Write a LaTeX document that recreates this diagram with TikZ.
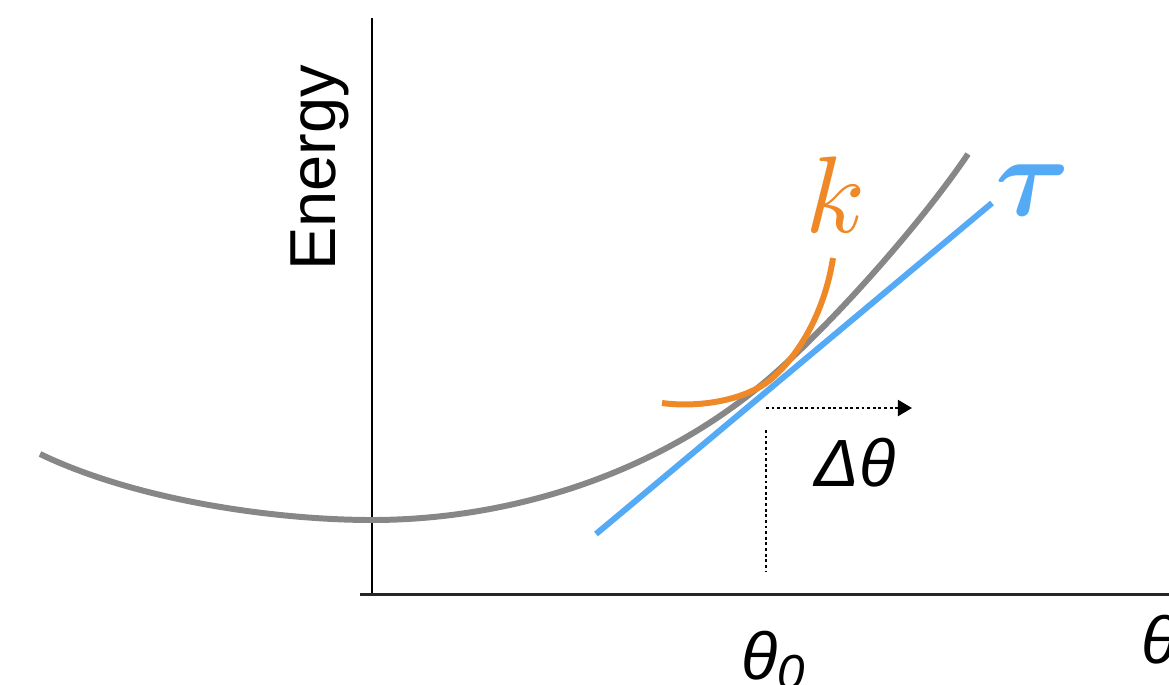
\documentclass[tikz,border=0pt]{standalone}
\usepackage{amsmath}
\usepackage{fontspec}
\setsansfont{Liberation Sans}
\usetikzlibrary{arrows.meta}
\definecolor{curvegray}{HTML}{878787}
\definecolor{tanblue}{HTML}{55AAF6}
\definecolor{kor}{HTML}{EF8826}
\tikzset{
  axisline/.style={line width=1.4pt, black},
  curve/.style={line width=3.4pt},
  dotline/.style={line width=1.5pt, dash pattern=on 1.6pt off 1.6pt},
  lbl/.style={inner sep=0pt, font=\sffamily\itshape\fontsize{38}{40}\selectfont}
}
\begin{document}
\begin{tikzpicture}[x=0.02cm, y=-0.02cm]
\useasboundingbox (0,0) rectangle (1169,684);
% axes
\coordinate (ytop) at (372,18);
\coordinate (ybot) at (372,596);
\coordinate (xl) at (360,594);
\coordinate (xr) at (1172,594);
\draw[axisline] (ytop) -- (ybot);
\draw[line width=1.7pt, black!85] (xl) -- (xr);
% energy curve
\coordinate (e0) at (40,454);
\coordinate (emin) at (372,520);
\coordinate (etan) at (773,375);
\coordinate (eend) at (968,154);
\draw[curve, curvegray] (e0) .. controls (140,502) and (280,520) .. (emin)
  .. controls (500,520) and (653,480) .. (etan)
  .. controls (833,322) and (920,225) .. (eend);
% tangent
\coordinate (t1) at (596,534);
\coordinate (t2) at (992,203);
\draw[curve, tanblue] (t1) -- (t2);
% curvature parabola
\coordinate (k0) at (662,403);
\coordinate (km) at (770,380);
\coordinate (k1) at (833,258);
\draw[curve, kor] (k0) .. controls (700,408) and (745,400) .. (km)
  .. controls (800,355) and (825,310) .. (k1);
% dotted guides
\coordinate (a1) at (766,408);
\coordinate (a2) at (912,408);
\draw[dotline, -{Triangle[length=8pt, width=9pt]}] (a1) -- (a2);
\coordinate (v1) at (766,430);
\coordinate (v2) at (766,571);
\draw[dotline] (v1) -- (v2);
% labels
\node[inner sep=0pt, rotate=90, font=\sffamily\fontsize{37}{40}\selectfont] (energy) at (320,168) {Energy};
\node[lbl] (dtheta) at (855,463) {Δθ};
\node[lbl, anchor=base west] (theta0) at (741,679) {θ\raisebox{-0.3ex}{\fontsize{28}{30}\selectfont 0}};
\node[lbl, anchor=base west] (theta) at (1141,663) {θ};
\node[inner sep=0pt, text=kor, scale=6.2] (k) at (836,195) {$k$};
\node[inner sep=0pt, text=tanblue, scale=6.5] (tau) at (1033,190) {$\boldsymbol{\tau}$};
\end{tikzpicture}
\end{document}
